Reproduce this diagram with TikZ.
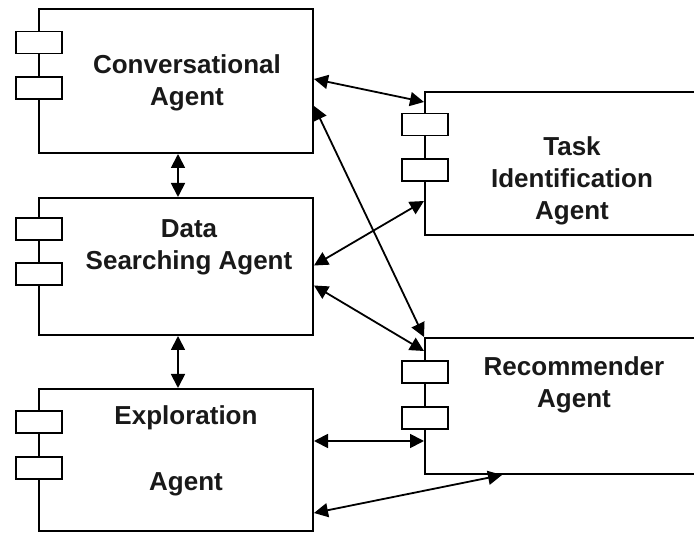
\documentclass[tikz,border=0pt]{standalone}
\usepackage{fontspec}
\setmainfont{Liberation Sans}
\usetikzlibrary{arrows.meta}
\begin{document}
\begin{tikzpicture}[x=1pt,y=-1pt,
  agentbox/.style={draw, line width=2pt, fill=white, minimum width=274pt, inner sep=0pt},
  rightbox/.style={draw, line width=2pt, fill=white, minimum width=300pt, inner sep=0pt},
  port/.style={draw, line width=1.8pt, fill=white, minimum width=46pt, minimum height=22pt, inner sep=0pt},
  lbl/.style={font=\fontsize{26}{32}\selectfont\bfseries, align=center, text=black!90, inner sep=0pt},
  link/.style={line width=1.8pt, {Triangle[length=14pt,width=14pt]}-{Triangle[length=14pt,width=14pt]}}]
\useasboundingbox (0,0) rectangle (694,534);
\clip (0,0) rectangle (694,534);
\fill[white] (0,0) rectangle (694,534);

% boxes
\node[agentbox, minimum height=144pt] (conv) at (176,81) {};
\node[agentbox, minimum height=137pt] (data) at (176,266.5) {};
\node[agentbox, minimum height=142pt] (expl) at (176,460) {};
\node[rightbox, minimum height=143pt] (task) at (575,163.5) {};
\node[rightbox, minimum height=136pt] (rec) at (575,406) {};

% ports
\node[port] (c1) at (39,42.5) {};
\node[port] (c2) at (39,88) {};
\node[port] (d1) at (39,229) {};
\node[port] (d2) at (39,274) {};
\node[port] (e1) at (39,422) {};
\node[port] (e2) at (39,468) {};
\node[port] (t1) at (425,124.5) {};
\node[port] (t2) at (425,170) {};
\node[port] (r1) at (425,372) {};
\node[port] (r2) at (425,418) {};

% labels
\node[lbl] (convlbl) at (187,83) {Conversational\\Agent};
\node[lbl] (datalbl) at (189,247) {Data\\Searching Agent};
\node[lbl] (expllbl) at (186,451) {Exploration\\[34pt]Agent};
\node[lbl] (tasklbl) at (572,181) {Task\\Identification\\Agent};
\node[lbl] (reclbl) at (574,385) {Recommender\\Agent};

% connectors
\draw[link] ([xshift=2pt]conv.south) -- ([xshift=2pt]data.north);
\draw[link] ([xshift=2pt]data.south) -- ([xshift=2pt]expl.north);
\draw[link] ([yshift=2pt]conv.east) -- ([yshift=-11pt]task.north west);
\draw[link] ([yshift=-25pt]conv.east) -- (rec.north west);
\draw[link] ([yshift=1pt]data.east) -- ([yshift=-110pt]task.north west);
\draw[link] ([yshift=-19pt]data.east) -- ([yshift=-14pt]rec.north west);
\coordinate (e5) at ([yshift=19pt]expl.east);
\draw[link] (e5) -- (e5 -| rec.west);
\draw[link] ([yshift=-53pt]expl.east) -- ([xshift=78pt]rec.south west);
\end{tikzpicture}
\end{document}
